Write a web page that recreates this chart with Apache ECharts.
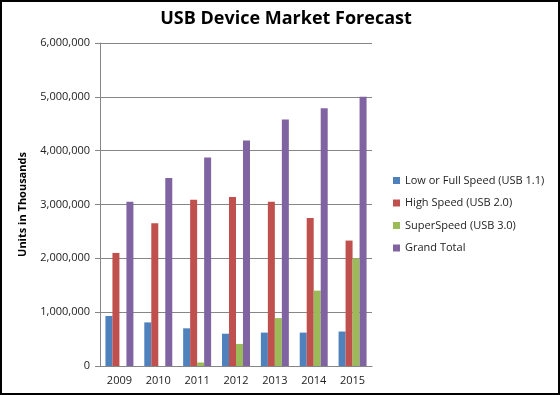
<!DOCTYPE html>
<html><head><meta charset="utf-8">
<script src="https://cdn.jsdelivr.net/npm/echarts@6/dist/echarts.min.js"></script>
<style>html,body{margin:0;padding:0;background:#fff}#c{width:560px;height:395px;box-sizing:border-box;border:2px solid #000}</style>
</head><body><div id="c"></div>
<script>
const categories = ['2009','2010','2011','2012','2013','2014','2015'];
const lowFull = [930000, 810000, 700000, 600000, 620000, 620000, 640000];
const highSpeed = [2100000, 2650000, 3090000, 3140000, 3050000, 2750000, 2330000];
const superSpeed = [0, 0, 65000, 410000, 890000, 1400000, 2000000];
const grandTotal = [3050000, 3490000, 3875000, 4190000, 4580000, 4790000, 5000000];
const yTicks = [0, 1000000, 2000000, 3000000, 4000000, 5000000, 6000000];

const font = 'Open Sans';
const chart = echarts.init(document.getElementById('c'), null, {renderer:'canvas'});
const mk = (name, data, color) => ({name, type:'bar', data, itemStyle:{color}, barGap:'0%', barCategoryGap:'28%'});
chart.setOption({
  animation:false,
  title:{text:'USB Device Market Forecast', left:279, top:3, textAlign:'center',
    textStyle:{fontFamily:font, fontWeight:'bold', fontSize:18, color:'#000'}},
  legend:{orient:'vertical', left:386, top:168, itemWidth:7, itemHeight:7, itemGap:11.5,
    icon:'rect', textStyle:{fontFamily:font, fontSize:11, color:'#222'}},
  grid:{left:98, right:186, top:41, bottom:27},
  xAxis:{type:'category', data:categories,
    axisLine:{lineStyle:{color:'#868686'}}, axisTick:{show:false},
    axisLabel:{fontFamily:font, fontSize:11, color:'#222', margin:9}},
  yAxis:{type:'value', min:yTicks[0], max:yTicks[yTicks.length-1], interval:1000000,
    name:'Units in Thousands', nameLocation:'middle', nameGap:72, nameRotate:90,
    nameTextStyle:{fontFamily:font, fontWeight:'bold', fontSize:11, color:'#000'},
    axisLine:{show:true, lineStyle:{color:'#868686'}},
    axisTick:{show:true, length:5, lineStyle:{color:'#868686'}},
    splitLine:{lineStyle:{color:'#868686'}},
    axisLabel:{fontFamily:font, fontSize:11, color:'#222', margin:10,
      formatter:v=>v.toLocaleString('en-US')}},
  series:[
    mk('Low or Full Speed (USB 1.1)', lowFull, '#4F81BD'),
    mk('High Speed (USB 2.0)', highSpeed, '#C0504D'),
    mk('SuperSpeed (USB 3.0)', superSpeed, '#9BBB59'),
    mk('Grand Total', grandTotal, '#8064A2')
  ]
});
</script></body></html>
